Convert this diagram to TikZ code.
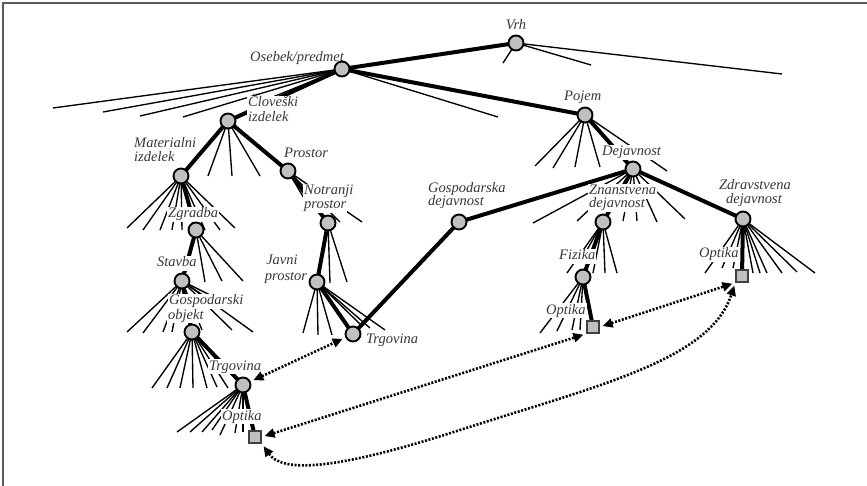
\documentclass[tikz,border=0pt]{standalone}
\usepackage{fontspec}
\setmainfont{Liberation Serif}
\usetikzlibrary{arrows.meta}
\pgfdeclarelayer{bg}
\pgfdeclarelayer{mid}
\pgfsetlayers{bg,mid,main}
\definecolor{ngray}{RGB}{192,192,192}
\definecolor{lblc}{RGB}{55,55,55}
\tikzset{
 nd/.style={circle, draw=black, line width=1.9pt, fill=ngray, minimum size=15pt, inner sep=0pt},
 sq/.style={rectangle, draw=black!75, line width=1.5pt, fill=ngray, minimum size=12pt, inner sep=0pt},
 lbl/.style={font=\fontsize{14.5pt}{16pt}\selectfont\itshape, text=lblc, fill=white, inner xsep=1pt, inner ysep=0.6pt, text height=10pt, text depth=3.4pt},
 fan/.style={line width=1.35pt, black},
 edge/.style={line width=4pt, black},
 dotarr/.style={line width=2.6pt, dash pattern=on 2pt off 1.6pt, {Triangle[length=10pt,width=9pt]}-{Triangle[length=10pt,width=9pt]}, shorten <=3pt, shorten >=3pt},
 frame/.style={line width=1.5pt, black!65}
}
\begin{document}
\begin{tikzpicture}[x=1pt,y=-1pt]
\useasboundingbox (0,0) rectangle (867,486);
\draw[frame] (3,486) -- (3,3) -- (867,3);
% tree nodes
\node[nd] (vrh) at (516,43) {};
\node[nd] (os) at (342,69) {};
\node[nd] (poj) at (585,115) {};
\node[nd] (clo) at (228,121) {};
\node[nd] (mat) at (181,176) {};
\node[nd] (pro) at (288,171) {};
\node[nd] (notr) at (328,223) {};
\node[nd] (zgr) at (196,230) {};
\node[nd] (sta) at (182,281) {};
\node[nd] (gob) at (192,332) {};
\node[nd] (jav) at (317,282) {};
\node[nd] (trR) at (353,334) {};
\node[nd] (gde) at (459,222) {};
\node[nd] (dej) at (633,169) {};
\node[nd] (zna) at (603,222) {};
\node[nd] (zdr) at (743,219) {};
\node[nd] (fiz) at (583,277) {};
\node[nd] (trL) at (243,385) {};
\node[sq] (optF) at (593,327) {};
\node[sq] (optZ) at (742,276) {};
\node[sq] (optL) at (255,437) {};
\coordinate (cmid) at (460,430);
\begin{pgfonlayer}{bg}
% fan lines
\foreach \p in {(503,63),(591,65),(782,74)} \draw[fan] (vrh.center) -- \p;
\foreach \p in {(53,108),(103,112),(140,116),(183,117),(258,103),(498,117)} \draw[fan] (os.center) -- \p;
\foreach \p in {(535,166),(553,168),(575,167),(600,167),(667,171)} \draw[fan] (poj.center) -- \p;
\foreach \p in {(533,223),(577,221),(623,221),(637,221),(657,222),(685,219)} \draw[fan] (dej.center) -- \p;
\foreach \p in {(567,273),(580,262),(590,262),(593,273),(605,273),(617,273)} \draw[fan] (zna.center) -- \p;
\foreach \p in {(540,333),(557,331),(572,330),(580,330)} \draw[fan] (fiz.center) -- \p;
\foreach \p in {(705,273),(722,268),(733,268),(753,273),(760,273),(767,273),(782,273),(797,272),(815,273)} \draw[fan] (zdr.center) -- \p;
\foreach \p in {(208,176),(232,176),(260,176)} \draw[fan] (clo.center) -- \p;
\foreach \p in {(127,228),(143,230),(160,230),(172,230),(182,230),(205,230),(220,230),(235,228)} \draw[fan] (mat.center) -- \p;
\foreach \p in {(305,200),(310,198),(340,222),(362,222)} \draw[fan] (pro.center) -- \p;
\foreach \p in {(205,282),(222,281),(243,281)} \draw[fan] (zgr.center) -- \p;
\foreach \p in {(127,332),(143,333),(163,332),(172,332),(202,330),(210,300),(216,298),(232,330),(253,332)} \draw[fan] (sta.center) -- \p;
\foreach \p in {(152,388),(167,388),(180,388),(193,388),(207,388),(217,387),(222,366),(228,388)} \draw[fan] (gob.center) -- \p;
\foreach \p in {(177,432),(190,432),(202,432),(212,430),(220,435),(235,433),(243,432)} \draw[fan] (trL.center) -- \p;
\foreach \p in {(303,333),(318,335),(332,335),(362,326),(370,328),(385,330)} \draw[fan] (jav.center) -- \p;
\foreach \p in {(330,283),(347,282)} \draw[fan] (notr.center) -- \p;
% thick edges
\draw[edge] (vrh.center) -- (os.center);
\draw[edge] (os.center) -- (poj.center);
\draw[edge] (os.center) -- (clo.center);
\draw[edge] (clo.center) -- (mat.center);
\draw[edge] (clo.center) -- (pro.center);
\draw[edge] (pro.center) -- (notr.center);
\draw[edge] (mat.center) -- (zgr.center);
\draw[edge] (zgr.center) -- (sta.center);
\draw[edge] (sta.center) -- (gob.center);
\draw[edge] (gob.center) -- (trL.center);
\draw[edge] (trL.center) -- (optL.center);
\draw[edge] (notr.center) -- (jav.center);
\draw[edge] (jav.center) -- (trR.center);
\draw[edge] (trR.center) -- (gde.center);
\draw[edge] (gde.center) -- (dej.center);
\draw[edge] (poj.center) -- (dej.center);
\draw[edge] (dej.center) -- (zna.center);
\draw[edge] (dej.center) -- (zdr.center);
\draw[edge] (zna.center) -- (fiz.center);
\draw[edge] (fiz.center) -- (optF.center);
\draw[edge] (zdr.center) -- (optZ.center);
\end{pgfonlayer}
\begin{pgfonlayer}{mid}
\node[lbl, anchor=base] (lvrh) at (516,30) {Vrh};
\node[lbl, anchor=base west] (los) at (249,62) {Osebek/predmet};
\node[lbl, anchor=base west] (lpoj) at (563,101) {Pojem};
\node[lbl, anchor=base west] (lclo1) at (247,107) {Človeški};
\node[lbl, anchor=base west] (lclo2) at (247,122) {izdelek};
\node[lbl, anchor=base west] (lmat1) at (133,148) {Materialni};
\node[lbl, anchor=base west] (lmat2) at (133,162) {izdelek};
\node[lbl, anchor=base west] (lpro) at (283,158) {Prostor};
\node[lbl, anchor=base west] (lnotr1) at (303,195) {Notranji};
\node[lbl, anchor=base west] (lnotr2) at (303,209) {prostor};
\node[lbl, anchor=base west] (lzgr) at (167,218) {Zgradba};
\node[lbl, anchor=base west] (lsta) at (156,267) {Stavba};
\node[lbl, anchor=base west] (lgob1) at (168,305) {Gospodarski};
\node[lbl, anchor=base west] (lgob2) at (167,319) {objekt};
\node[lbl, anchor=base] (ljav1) at (282,265) {Javni};
\node[lbl, anchor=base] (ljav2) at (286,280) {prostor};
\node[lbl, anchor=base west] (ltrR) at (365,343) {Trgovina};
\node[lbl, anchor=base west] (lgde1) at (427,193) {Gospodarska};
\node[lbl, anchor=base west] (lgde2) at (427,206) {dejavnost};
\node[lbl, anchor=base west] (ldej) at (601,156) {Dejavnost};
\node[lbl, anchor=base west] (lzna1) at (588,195) {Znanstvena};
\node[lbl, anchor=base west] (lzna2) at (588,208) {dejavnost};
\node[lbl, anchor=base] (lzdr1) at (755,190) {Zdravstvena};
\node[lbl, anchor=base] (lzdr2) at (754,204) {dejavnost};
\node[lbl, anchor=base west] (lfiz) at (558,260) {Fizika};
\node[lbl, anchor=base west] (loptF) at (545,314) {Optika};
\node[lbl, anchor=base west] (loptZ) at (698,258) {Optika};
\node[lbl, anchor=base west] (ltrL) at (208,370) {Trgovina};
\node[lbl, anchor=base west] (loptL) at (221,420) {Optika};
\end{pgfonlayer}
% dotted relation arrows
\draw[dotarr] (trL) -- (trR);
\draw[dotarr] (optL.east) -- (optF.south west);
\draw[dotarr] (optF.east) -- (optZ.south west);
\draw[dotarr] (optL.south east) .. controls (282,472) and (330,472) .. (cmid) .. controls (600,385) and (710,360) .. (optZ.south west);
\end{tikzpicture}
\end{document}
